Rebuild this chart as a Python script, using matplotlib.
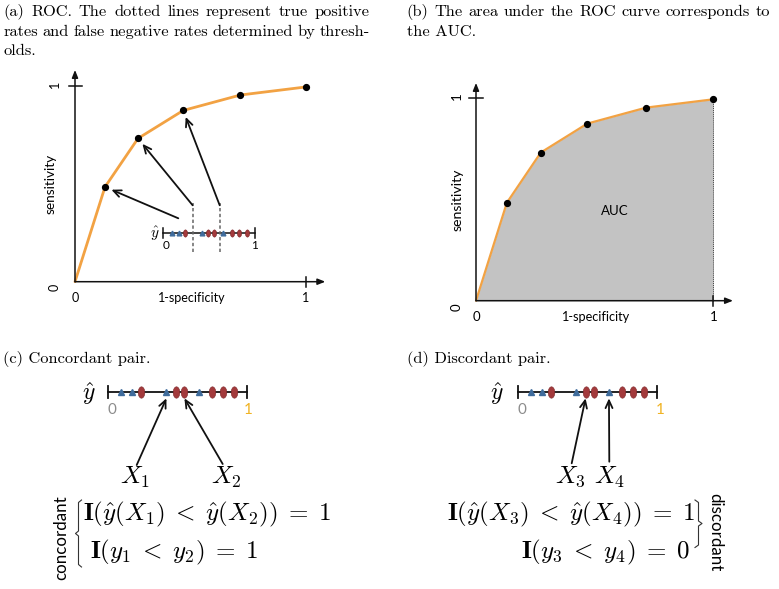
import matplotlib
matplotlib.use("Agg")
import matplotlib.pyplot as plt
from matplotlib.path import Path
from matplotlib.markers import MarkerStyle
from matplotlib.transforms import Affine2D

plt.rcParams["mathtext.fontset"] = "cm"

# ---------------- data ----------------
roc_fpr = [0.0, 0.13, 0.273, 0.469, 0.717, 1.0]
roc_tpr = [0.0, 0.484, 0.732, 0.875, 0.954, 0.995]
score_pos = [0.09, 0.172, 0.235, 0.42, 0.486, 0.55, 0.655, 0.75, 0.827, 0.91]
score_cls = [0, 0, 1, 0, 1, 1, 0, 1, 1, 1]      # 0 = negative (triangle), 1 = positive (ellipse)
thresholds = [0.32, 0.615]
concordant_idx = [3, 5]     # X1, X2
discordant_idx = [4, 6]     # X3, X4

cap_a = ["(a) ROC. The dotted lines represent true positive",
         "rates and false negative rates determined by thresh-",
         "olds."]
cap_b = ["(b) The area under the ROC curve corresponds to",
         "the AUC."]
cap_c = "(c) Concordant pair."
cap_d = "(d) Discordant pair."
eq_c = [r"$\mathbf{I}(\hat{y}(X_1)\;<\;\hat{y}(X_2))\;=\;1$", r"$\mathbf{I}(y_1\;<\;y_2)\;=\;1$"]
eq_d = [r"$\mathbf{I}(\hat{y}(X_3)\;<\;\hat{y}(X_4))\;=\;1$", r"$\mathbf{I}(y_3\;<\;y_4)\;=\;0$"]

ORANGE = "#f2a243"
BLUE = "#3f6c9c"
RED = "#a33a3c"
DRED = "#7a2426"
GRAY = "#c3c3c3"
SANS = "Lato"
SERIF = "cmr10"

W, H = 779, 589
fig = plt.figure(figsize=(W / 100, H / 100), dpi=100)
renderer = fig.canvas.get_renderer()


def axes_px(x0, x1, xlim, y0, y1, ylim, zorder=1):
    sx = x1 - x0
    sy = y0 - y1
    left = x0 + xlim[0] * sx
    width = (xlim[1] - xlim[0]) * sx
    bottom_px = y0 - ylim[0] * sy
    height = (ylim[1] - ylim[0]) * sy
    ax = fig.add_axes([left / W, (H - bottom_px) / H, width / W, height / H], zorder=zorder)
    ax.set_xlim(xlim)
    ax.set_ylim(ylim)
    ax.axis("off")
    ax.patch.set_alpha(0)
    return ax


ellipse_marker = MarkerStyle(Path.unit_circle().transformed(Affine2D().scale(0.58, 1.0)))


def roc_panel(ax, lw_curve, xend, yend, fill, fs_lab, lab_y_x, tick_y):
    if fill:
        ax.fill_between(roc_fpr, roc_tpr, 0, color=GRAY, lw=0, zorder=1)
        ax.plot([1, 1], [0, roc_tpr[-1]], ls=(0, (1, 1)), color="#444444", lw=0.7, zorder=2)
    ax.plot(roc_fpr, roc_tpr, color=ORANGE, lw=lw_curve, solid_capstyle="round",
            solid_joinstyle="round", zorder=3)
    ax.plot(roc_fpr[1:], roc_tpr[1:], "o", color="k", ms=4.2, zorder=4)
    ap = dict(arrowstyle="-|>,head_length=0.45,head_width=0.18", lw=1.1, color="#111111",
              shrinkA=0, shrinkB=0)
    ax.annotate("", xy=(xend, 0), xytext=(0, 0), arrowprops=ap, annotation_clip=False)
    ax.annotate("", xy=(0, yend), xytext=(0, 0), arrowprops=ap, annotation_clip=False)
    ax.plot([-0.028, 0.03], [1, 1], color="#111111", lw=1.1, clip_on=False)
    ax.plot([1, 1], [-0.025, 0.025], color="#111111", lw=1.1, clip_on=False)
    for v in (0, 1):
        ax.text(v, tick_y, str(v), fontsize=fs_lab, family=SANS, ha="center", va="center")
    ax.text(lab_y_x, -0.03, "0", fontsize=fs_lab, family=SANS, ha="center", va="center", rotation=90)
    ax.text(lab_y_x, 1.01, "1", fontsize=fs_lab, family=SANS, ha="center", va="center", rotation=90)


def number_line(x0, x1, yc, tri_ms, ell_ms, lw, th):
    ax = axes_px(x0, x1, (-0.2, 1.2), yc, yc - 1, (-40, 40), zorder=5)
    ax.plot([0, 1], [0, 0], color="#111111", lw=lw, zorder=1)
    for v in (0, 1):
        ax.plot([v, v], [-th, th], color="#111111", lw=lw, zorder=1)
    neg = [p for p, c in zip(score_pos, score_cls) if c == 0]
    pos = [p for p, c in zip(score_pos, score_cls) if c == 1]
    ax.plot(neg, [0.6] * len(neg), ls="none", marker="^", ms=tri_ms, color=BLUE, mec=BLUE, zorder=3)
    ax.plot(pos, [0] * len(pos), ls="none", marker=ellipse_marker, ms=ell_ms, color=RED,
            mec=DRED, mew=0.4, zorder=3)
    return ax


# ---------------- panel (a) ----------------
ax_a = axes_px(75, 305.7, (-0.15, 1.15), 281.7, 86, (-0.15, 1.15))
roc_panel(ax_a, 2.0, 1.085, 1.082, False, 9, -0.087, -0.082)
ax_a.text(-0.108, 0.5, "sensitivity", fontsize=9.8, family=SANS, rotation=90, ha="center", va="center")
ax_a.text(0.506, -0.082, "1-specificity", fontsize=9, family=SANS, ha="center", va="center")

nl_a = number_line(163.3, 255, 233.3, 3.4, 5.2, 1.1, 5)
for t in thresholds:
    nl_a.plot([t, t], [-18.5, 30], ls=(0, (2.2, 1.6)), color="#666666", lw=1.1, zorder=2)

# ---------------- panel (b) ----------------
ax_b = axes_px(476, 713.3, (-0.15, 1.15), 300.7, 98.3, (-0.15, 1.15))
roc_panel(ax_b, 1.6, 1.083, 1.076, True, 9.5, -0.081, -0.082)
ax_b.text(-0.076, 0.4975, "sensitivity", fontsize=10.2, family=SANS, rotation=90, ha="center", va="center")
ax_b.text(0.504, -0.082, "1-specificity", fontsize=9.2, family=SANS, ha="center", va="center")
ax_b.text(0.586, 0.445, "AUC", fontsize=9.5, family=SANS, ha="center", va="center", zorder=6)

# ---------------- panels (c), (d) number lines ----------------
nl_c = number_line(108.3, 246.7, 392.3, 4.6, 8.2, 1.3, 6)
nl_d = number_line(518.3, 656.7, 392.3, 4.6, 8.2, 1.3, 6)

# ---------------- overlay (text, arrows) ----------------
ov = fig.add_axes([0, 0, 1, 1], zorder=10)
ov.set_xlim(0, W)
ov.set_ylim(H, 0)
ov.axis("off")
ov.patch.set_alpha(0)

cap_fs = 11.8


def caption_line(x, y, line, justify_to=None):
    if justify_to is None:
        ov.text(x, y, line, family=SERIF, fontsize=cap_fs, ha="left", va="baseline")
        return
    words = line.split(" ")
    objs = [ov.text(x, y, w, family=SERIF, fontsize=cap_fs, ha="left", va="baseline") for w in words]
    widths = [o.get_window_extent(renderer).width for o in objs]
    gap = (justify_to - x - sum(widths)) / (len(words) - 1)
    cx = x
    for o, wd in zip(objs, widths):
        o.set_x(cx)
        cx += wd + gap


caption_line(3.3, 16, cap_a[0], 370)
caption_line(3.3, 36, cap_a[1], 370)
caption_line(3.3, 55, cap_a[2])
caption_line(406.7, 16, cap_b[0], 770)
caption_line(406.7, 36, cap_b[1])
caption_line(3.3, 363, cap_c)
caption_line(406.7, 363, cap_d)

# arrows in (a): threshold -> ROC point
arr_a = dict(arrowstyle="->,head_length=0.55,head_width=0.25", lw=1.3, color="#111111",
             shrinkA=0, shrinkB=5)
ov.annotate("", xy=(roc_fpr[1], roc_tpr[1]), xycoords=ax_a.transData,
            xytext=(178.3, 218.3), textcoords=ov.transData, arrowprops=arr_a)
for k, t in zip((2, 3), thresholds):
    ov.annotate("", xy=(roc_fpr[k], roc_tpr[k]), xycoords=ax_a.transData,
                xytext=(t, 28), textcoords=nl_a.transData, arrowprops=arr_a)

# number line labels
ov.text(155, 234, r"$\hat{y}$", fontsize=11, ha="center", va="center")
ov.text(166, 245.7, "0", fontsize=8.5, family=SANS, ha="center", va="center")
ov.text(255, 245.7, "1", fontsize=8.5, family=SANS, ha="center", va="center")

for xy_y, xz, xo in ((88.3, 111.7, 248.3), (496.7, 521.7, 660)):
    ov.text(xy_y, 394, r"$\hat{y}$", fontsize=17, ha="center", va="center")
    ov.text(xz, 410, "0", fontsize=11, family=SANS, color="#8c8c8c", ha="center", va="center")
    ov.text(xo, 410, "1", fontsize=11, family=SANS, color="#f0b323", ha="center", va="center")

arr_x = dict(arrowstyle="->,head_length=0.55,head_width=0.25", lw=1.3, color="#111111",
             shrinkA=0, shrinkB=0)
lab_fs = 18
# (c)
for idx, start, lab, lx in ((concordant_idx[0], (136.7, 465), r"$X_1$", 135),
                            (concordant_idx[1], (222.7, 464), r"$X_2$", 226.7)):
    ov.annotate("", xy=(score_pos[idx], -6), xycoords=nl_c.transData,
                xytext=start, textcoords=ov.transData, arrowprops=arr_x)
    ov.text(lx, 477, lab, fontsize=lab_fs, ha="center", va="center")
# (d)
for idx, start, lab, lx in ((discordant_idx[0], (571.7, 463.3), r"$X_3$", 570),
                            (discordant_idx[1], (609.3, 461.7), r"$X_4$", 610)):
    ov.annotate("", xy=(score_pos[idx], -6), xycoords=nl_d.transData,
                xytext=start, textcoords=ov.transData, arrowprops=arr_x)
    ov.text(lx, 477, lab, fontsize=lab_fs, ha="center", va="center")

eq_fs = 18
ov.text(83.3, 514, eq_c[0], fontsize=eq_fs, ha="left", va="center")
ov.text(90, 552.5, eq_c[1], fontsize=eq_fs, ha="left", va="center")
ov.text(695, 514, eq_d[0], fontsize=eq_fs, ha="right", va="center")
ov.text(690, 552.5, eq_d[1], fontsize=eq_fs, ha="right", va="center")

# braces
ov.plot([81.5, 78.5, 78.5, 75.5, 78.5, 78.5, 81.5],
        [500, 502.5, 531, 533.5, 536, 564.5, 567], color="#333333", lw=0.8)
ov.plot([695, 698.5, 698.5, 702, 698.5, 698.5, 695],
        [500, 502.5, 521, 523.5, 526, 545, 547.5], color="#333333", lw=0.8)
ov.text(61.7, 538, "concordant", fontsize=12.2, family=SANS, rotation=90, ha="center", va="center")
ov.text(715, 531.7, "discordant", fontsize=12.2, family=SANS, rotation=270, ha="center", va="center")

fig.savefig("out.png", dpi=100)
